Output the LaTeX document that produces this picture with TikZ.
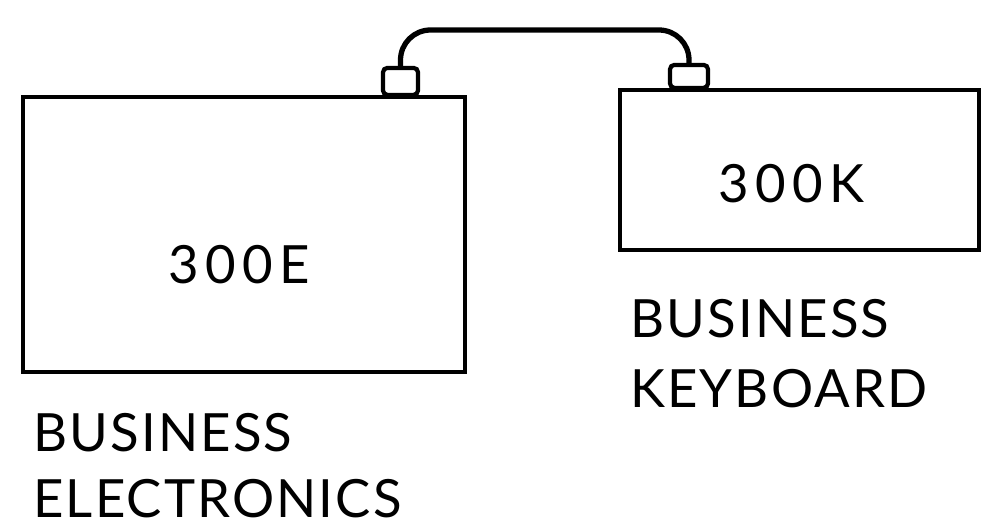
\documentclass[tikz,border=0pt]{standalone}
\usepackage{fontspec}
\setsansfont{Lato}

\begin{document}
\begin{tikzpicture}[x=0.02cm, y=-0.02cm,
				unit/.style={draw, line width=2.6pt, inner sep=0pt},
				plug/.style={draw, line width=2.4pt, inner sep=0pt, rounded corners=2.5pt},
				cable/.style={line width=3pt, rounded corners=0.6cm},
				model/.style={font=\sffamily\fontsize{30}{36}\selectfont\addfontfeature{LetterSpace=12}, inner sep=0pt, anchor=base west},
				caption/.style={font=\sffamily\fontsize{30}{36}\selectfont\addfontfeature{LetterSpace=4}, inner sep=0pt, anchor=base west}
				]
				\path[fill=white] (0,0) rectangle (983,527);
				% the two units
				\node[unit, minimum width=8.84cm, minimum height=5.5cm] (elec) at (244,234.5) {};
				\node[unit, minimum width=7.18cm, minimum height=3.2cm] (keyb) at (799.5,170) {};
				% plugs on top of the units
				\node[plug, minimum width=0.7cm, minimum height=0.54cm, anchor=south] (elecplug) at (400.5,97) {};
				\node[plug, minimum width=0.76cm, minimum height=0.46cm, anchor=south] (keybplug) at (689,90) {};
				% cable
				\coordinate (cabletop) at (0,30);
				\draw[cable] (elecplug.north) |- (cabletop -| keybplug.north) -- (keybplug.north);
				% labels
				\node[model] (elecname) at (168,283) {300E};
				\node[model] (keybname) at (718,202) {300K};
				\node[caption] (eleccap1) at (33,451) {BUSINESS};
				\node[caption] (eleccap2) at (33,517) {ELECTRONICS};
				\node[caption] (keybcap1) at (630,337) {BUSINESS};
				\node[caption] (keybcap2) at (630,407) {KEYBOARD};
			\end{tikzpicture}
\end{document}
